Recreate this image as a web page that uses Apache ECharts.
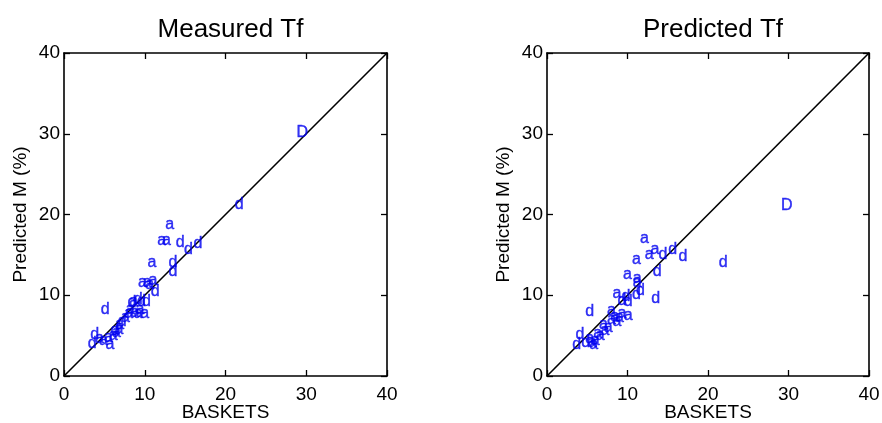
<!DOCTYPE html>
<html>
<head>
<meta charset="utf-8">
<script src="https://cdn.jsdelivr.net/npm/echarts@6/dist/echarts.min.js"></script>
<style>
  html, body { margin: 0; padding: 0; background: #fff; }
  #chart { width: 882px; height: 423px; }
</style>
</head>
<body>
<div id="chart"></div>
<script>
// Panel titles and axis text
const panelTitles = ['Measured Tf', 'Predicted Tf'];
const xAxisName = 'BASKETS';
const yAxisName = 'Predicted M (%)';
const axisTicks = [0, 10, 20, 30, 40];

// Measured Tf panel: BASKETS value, predicted M value, plotted letter
const measX = [29.5, 21.7, 13.1, 12.1, 12.7, 14.4, 15.4, 16.6, 10.9, 13.5, 13.5,
  9.7, 10.3, 11.0, 10.6, 11.3, 8.4, 8.6, 9.2, 9.6, 10.2, 8.8, 9.2, 10.0, 9.4,
  8.2, 8.0, 7.6, 6.9, 6.8, 6.5, 6.1, 5.5, 5.7, 4.9, 4.4, 5.1, 3.8, 3.5, 6.3, 7.2];
const measY = [30.3, 21.4, 18.9, 16.9, 16.9, 16.6, 15.8, 16.5, 14.2, 14.2, 13.1,
  11.7, 11.7, 12.0, 11.5, 10.6, 9.2, 9.4, 9.6, 9.4, 9.4, 8.0, 7.8, 7.8, 8.4,
  8.4, 7.8, 7.3, 6.5, 5.9, 5.5, 5.1, 4.9, 4.0, 4.5, 4.7, 8.4, 5.3, 4.1, 5.8, 6.9];
const measLetter = ['D', 'd', 'a', 'a', 'a', 'd', 'd', 'd', 'a', 'd', 'd',
  'a', 'a', 'a', 'a', 'd', 'd', 'a', 'd', 'd', 'd', 'a', 'a', 'a', 'a',
  'a', 'a', 'a', 'a', 'a', 'a', 'a', 'a', 'a', 'a', 'a', 'd', 'd', 'd', 'd', 'd'];

// Predicted Tf panel
const predX = [29.8, 21.9, 12.1, 13.4, 12.7, 14.4, 15.6, 16.9, 11.1, 10.0, 11.2,
  11.2, 13.7, 11.6, 11.1, 8.7, 9.8, 10.1, 9.3, 13.5, 5.3, 8.0, 9.3, 10.1, 8.0,
  8.7, 4.1, 3.7, 5.3, 6.0, 6.6, 7.2, 7.6, 5.8, 6.3, 5.6, 4.8, 7.0, 8.4, 9.0];
const predY = [21.2, 14.2, 17.2, 15.8, 15.1, 15.1, 15.8, 14.9, 14.6, 12.7, 12.2,
  11.7, 13.0, 10.7, 10.2, 10.3, 9.9, 9.4, 9.5, 9.7, 8.1, 8.2, 7.8, 7.6, 7.1,
  6.9, 5.3, 4.0, 4.7, 4.5, 5.1, 5.7, 6.1, 4.0, 5.4, 4.2, 4.3, 6.5, 7.5, 7.4];
const predLetter = ['D', 'd', 'a', 'a', 'a', 'd', 'd', 'd', 'a', 'a', 'a',
  'a', 'd', 'd', 'd', 'a', 'd', 'd', 'd', 'd', 'd', 'a', 'a', 'a', 'a',
  'a', 'd', 'd', 'a', 'a', 'a', 'a', 'a', 'a', 'a', 'a', 'd', 'a', 'a', 'a'];

// 1:1 reference line end points
const identityLine = [[0, 0], [40, 40]];

const FONT = '"Liberation Sans", Arial, sans-serif';
const INK = '#000';
const MARK = '#0000f0';

const panels = [
  { title: panelTitles[0], xs: measX, ys: measY, letters: measLetter, left: 64, width: 323 },
  { title: panelTitles[1], xs: predX, ys: predY, letters: predLetter, left: 547, width: 322 }
];

const grids = [], xAxes = [], yAxes = [], series = [], titles = [];

panels.forEach((p, i) => {
  grids.push({
    left: p.left, top: 53, width: p.width, height: 323,
    containLabel: false, outerBoundsMode: 'none'
  });
  titles.push({
    text: p.title, left: p.left + p.width / 2, top: 12, textAlign: 'center',
    textStyle: { fontFamily: FONT, fontSize: 26, fontWeight: 'normal', color: INK }
  });
  const tick = () => ({ show: true, inside: true, length: 6, lineStyle: { color: INK, width: 1.3 } });
  const line = { show: true, onZero: false, lineStyle: { color: INK, width: 1.6 } };
  const base = {
    gridIndex: i, type: 'value', min: 0, max: 40, interval: 10,
    splitLine: { show: false }, axisLine: line
  };
  // bottom axis with labels, top axis closes the frame
  xAxes.push(Object.assign({}, base, {
    position: 'bottom', name: xAxisName, nameLocation: 'middle', nameGap: 27,
    nameMoveOverlap: false,
    nameTextStyle: { fontFamily: FONT, fontSize: 19, color: INK },
    axisTick: tick(),
    axisLabel: { show: true, margin: 9, fontFamily: FONT, fontSize: 19, color: INK,
      customValues: axisTicks }
  }));
  xAxes.push(Object.assign({}, base, { position: 'top', axisTick: tick(), axisLabel: { show: false } }));
  yAxes.push(Object.assign({}, base, {
    position: 'left', name: yAxisName, nameLocation: 'middle', nameGap: 34,
    nameMoveOverlap: false,
    nameTextStyle: { fontFamily: FONT, fontSize: 19, color: INK },
    axisTick: tick(),
    axisLabel: { show: true, margin: 4, fontFamily: FONT, fontSize: 19, color: INK }
  }));
  yAxes.push(Object.assign({}, base, { position: 'right', axisTick: tick(), axisLabel: { show: false } }));

  series.push({
    type: 'line', xAxisIndex: i * 2, yAxisIndex: i * 2,
    data: identityLine, symbol: 'none', silent: true,
    lineStyle: { color: INK, width: 1.6 }, z: 1
  });
  series.push({
    type: 'scatter', xAxisIndex: i * 2, yAxisIndex: i * 2,
    data: p.xs.map((x, k) => [x, p.ys[k], p.letters[k]]),
    symbolSize: 1, itemStyle: { color: 'rgba(0,0,0,0)' },
    label: {
      show: true, position: 'inside', offset: [0, 1], formatter: d => d.data[2],
      fontFamily: FONT, fontSize: 16, color: MARK,
      textBorderColor: MARK, textBorderWidth: 0.4
    },
    z: 2
  });
});

const chart = echarts.init(document.getElementById('chart'), null, { renderer: 'canvas' });
chart.setOption({
  animation: false,
  backgroundColor: '#fff',
  title: titles,
  grid: grids,
  xAxis: xAxes,
  yAxis: yAxes,
  series: series
});
</script>
</body>
</html>
